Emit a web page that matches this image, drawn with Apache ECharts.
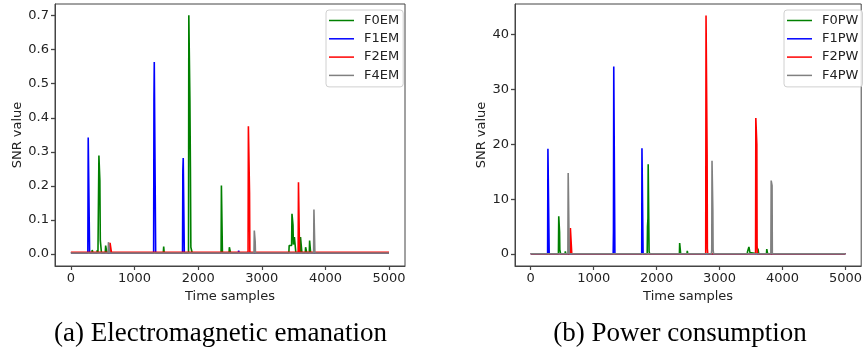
<!DOCTYPE html>
<html>
<head>
<meta charset="utf-8">
<script src="https://cdn.jsdelivr.net/npm/echarts@6/dist/echarts.min.js"></script>
<style>
html,body{margin:0;padding:0;background:#fff;}
#chart{width:865px;height:347px;}
</style>
</head>
<body>
<div id="chart"></div>
<script>
// ---------- data ----------
const xTicks = [0, 1000, 2000, 3000, 4000, 5000];
const yTicksEM = [0, 0.1, 0.2, 0.3, 0.4, 0.5, 0.6, 0.7];
const yTicksPW = [0, 10, 20, 30, 40];

const namesEM = ['F0EM', 'F1EM', 'F2EM', 'F4EM'];
const namesPW = ['F0PW', 'F1PW', 'F2PW', 'F4PW'];
const captionA = '(a) Electromagnetic emanation';
const captionB = '(b) Power consumption';

// Electromagnetic emanation, [time sample, SNR]
const F0EM = [[0,0.004],[330,0.004],[335,0.012],[345,0.004],[410,0.004],[415,0.012],[425,0.004],
  [435,0.004],[440,0.289],[450,0.289],[455,0.215],[462,0.04],[472,0.04],[480,0.004],
  [540,0.004],[546,0.025],[558,0.025],[564,0.004],[1452,0.004],[1458,0.022],[1466,0.004],
  [1660,0.004],[1665,0.008],[1672,0.004],[1848,0.004],[1853,0.701],[1864,0.701],[1870,0.45],
  [1878,0.255],[1885,0.02],[1900,0.02],[1905,0.004],[2030,0.004],[2035,0.008],[2042,0.004],
  [2270,0.004],[2275,0.008],[2282,0.004],[2360,0.004],[2365,0.201],[2375,0.201],[2381,0.004],
  [2485,0.004],[2490,0.02],[2502,0.02],[2508,0.004],[3425,0.004],[3430,0.025],[3468,0.025],
  [3474,0.118],[3484,0.118],[3490,0.085],[3496,0.028],[3506,0.028],[3512,0.05],[3530,0.05],
  [3535,0.004],[3603,0.004],[3608,0.05],[3624,0.05],[3630,0.004],[3683,0.004],[3688,0.02],
  [3700,0.02],[3706,0.004],[3746,0.004],[3751,0.04],[3762,0.04],[3767,0.004],[4999,0.004]];
const F1EM = [[0,0.004],[266,0.004],[272,0.342],[288,0.342],[294,0.004],[1140,0.004],[1145,0.007],
  [1150,0.004],[1300,0.004],[1305,0.45],[1310,0.564],[1326,0.564],[1332,0.004],[1754,0.004],
  [1759,0.245],[1765,0.282],[1776,0.282],[1782,0.004],[2520,0.004],[2525,0.008],[2532,0.004],
  [2630,0.004],[2636,0.01],[2644,0.004],[4999,0.004]];
const F2EM = [[0,0.005],[610,0.005],[615,0.033],[632,0.033],[637,0.005],[2784,0.005],[2789,0.375],
  [2802,0.375],[2807,0.18],[2812,0.005],[3571,0.005],[3576,0.211],[3588,0.211],[3593,0.005],
  [4999,0.005]];
const F4EM = [[0,0.003],[585,0.003],[590,0.035],[605,0.035],[610,0.003],[2877,0.003],[2882,0.069],
  [2891,0.069],[2896,0.035],[2900,0.003],[3814,0.003],[3819,0.131],[3829,0.131],[3834,0.003],
  [4999,0.003]];

// Power consumption, [time sample, SNR]
const F0PW = [[0,0.05],[380,0.05],[385,0.2],[392,0.05],[440,0.05],[445,6.9],[454,6.9],[458,4],
  [462,0.8],[470,0.8],[475,0.05],[545,0.05],[550,0.5],[557,0.05],[1440,0.05],[1447,0.3],
  [1454,0.05],[1850,0.05],[1855,5],[1862,6.5],[1866,16.4],[1876,16.4],[1880,0.5],[1890,0.05],
  [2362,0.05],[2366,2.0],[2378,2.0],[2382,0.05],[2482,0.05],[2487,0.6],[2495,0.05],
  [3440,0.05],[3445,0.5],[3462,0.5],[3466,1.3],[3478,1.3],[3482,0.3],[3500,0.05],
  [3605,0.05],[3610,1],[3618,1],[3622,0.05],[3680,0.05],[3686,0.3],[3693,0.05],
  [3745,0.05],[3750,0.9],[3760,0.9],[3764,0.05],[4999,0.05]];
const F1PW = [[0,0.05],[268,0.05],[273,19.2],[288,19.2],[293,0.05],[1310,0.05],[1314,4],
  [1319,34.2],[1332,34.2],[1337,0.05],[1763,0.05],[1767,19.3],[1780,19.3],[1785,0.05],
  [4999,0.05]];
const F2PW = [[0,0.05],[625,0.05],[630,4.74],[648,4.74],[652,0.05],[2780,0.05],[2785,43.5],
  [2797,43.5],[2802,18],[2806,1],[2812,0.05],[3572,0.05],[3576,24.8],[3588,24.8],[3592,20],
  [3596,1.5],[3602,0.05],[4999,0.05]];
const F4PW = [[0,0.05],[590,0.05],[595,14.8],[608,14.8],[612,0.05],[2870,0.05],[2876,0.8],
  [2880,17.0],[2890,17.0],[2893,8],[2897,0.8],[2905,0.05],[3815,0.05],[3820,13.4],
  [3830,13.4],[3834,12.5],[3838,0.05],[4999,0.05]];

const colors = ['#008000', '#0000ff', '#ff0000', '#808080'];
const dataEM = [F0EM, F1EM, F2EM, F4EM];
const dataPW = [F0PW, F1PW, F2PW, F4PW];

// ---------- chart ----------
const FONT = 'DejaVu Sans';
const TXT = '#222222';
const AX = '#444444';
const chart = echarts.init(document.getElementById('chart'), null, {renderer: 'canvas'});

const xRange = [-250, 5250];
const yRangeEM = [-0.035, 0.734];
const yRangePW = [-2.17, 45.6];

function xAxisDef(gi) {
  return {
    type: 'value', gridIndex: gi, min: xRange[0], max: xRange[1], position: 'bottom',
    name: 'Time samples', nameLocation: 'middle', nameGap: 24,
    nameTextStyle: {fontFamily: FONT, fontSize: 13, color: TXT},
    axisLine: {show: true, onZero: false, lineStyle: {color: AX, width: 1}},
    splitLine: {show: false},
    axisTick: {show: true, inside: false, length: 4, lineStyle: {color: AX, width: 1.2}, customValues: xTicks},
    axisLabel: {show: true, margin: 6, fontFamily: FONT, fontSize: 13, color: TXT, customValues: xTicks,
      formatter: v => String(v)}
  };
}
function yAxisDef(gi, range, ticks, dec, gap) {
  return {
    type: 'value', gridIndex: gi, min: range[0], max: range[1], position: 'left',
    name: 'SNR value', nameLocation: 'middle', nameGap: gap, nameRotate: 90,
    nameTextStyle: {fontFamily: FONT, fontSize: 13, color: TXT},
    axisLine: {show: true, onZero: false, lineStyle: {color: AX, width: 1}},
    splitLine: {show: false},
    axisTick: {show: true, inside: false, length: 4, lineStyle: {color: AX, width: 1.3}, customValues: ticks},
    axisLabel: {show: true, margin: 6, fontFamily: FONT, fontSize: 13, color: TXT, customValues: ticks,
      formatter: v => v.toFixed(dec)}
  };
}

const series = [];
namesEM.forEach((n, i) => series.push({
  name: n, type: 'line', xAxisIndex: 0, yAxisIndex: 0, data: dataEM[i],
  showSymbol: false, symbol: 'none', animation: false,
  lineStyle: {color: colors[i], width: 1.6}, itemStyle: {color: colors[i]}
}));
namesPW.forEach((n, i) => series.push({
  name: n, type: 'line', xAxisIndex: 1, yAxisIndex: 1, data: dataPW[i],
  showSymbol: false, symbol: 'none', animation: false,
  lineStyle: {color: colors[i], width: 1.6}, itemStyle: {color: colors[i]}
}));

function legendDef(names, left) {
  return {
    data: names, left: left, top: 10, orient: 'vertical',
    icon: 'rect', itemWidth: 25, itemHeight: 1.5, itemGap: 5.3,
    padding: [4, 4, 5, 3],
    borderColor: '#d0d0d0', borderWidth: 1, borderRadius: 3,
    backgroundColor: 'rgba(255,255,255,0.8)',
    textStyle: {fontFamily: FONT, fontSize: 13, color: TXT, padding: [0, 0, 0, 5]}
  };
}

const option = {
  backgroundColor: '#ffffff',
  animation: false,
  grid: [
    {left: 55, top: 4, width: 350, height: 262, show: true, borderColor: AX, borderWidth: 1, backgroundColor: 'transparent'},
    {left: 515, top: 4, width: 349, height: 262, show: true, borderColor: AX, borderWidth: 1, backgroundColor: 'transparent'}
  ],
  xAxis: [xAxisDef(0), xAxisDef(1)],
  yAxis: [yAxisDef(0, yRangeEM, yTicksEM, 1, 31), yAxisDef(1, yRangePW, yTicksPW, 0, 27)],
  legend: [legendDef(namesEM, 326), legendDef(namesPW, 784)],
  title: [
    {text: captionA, left: 220.5, top: 320, textAlign: 'center', padding: 0,
      textStyle: {fontFamily: 'Liberation Serif', fontSize: 27, fontWeight: 'normal', color: '#000'}},
    {text: captionB, left: 680, top: 320, textAlign: 'center', padding: 0,
      textStyle: {fontFamily: 'Liberation Serif', fontSize: 27, fontWeight: 'normal', color: '#000'}}
  ],
  series: series
};
chart.setOption(option);
</script>
</body>
</html>
